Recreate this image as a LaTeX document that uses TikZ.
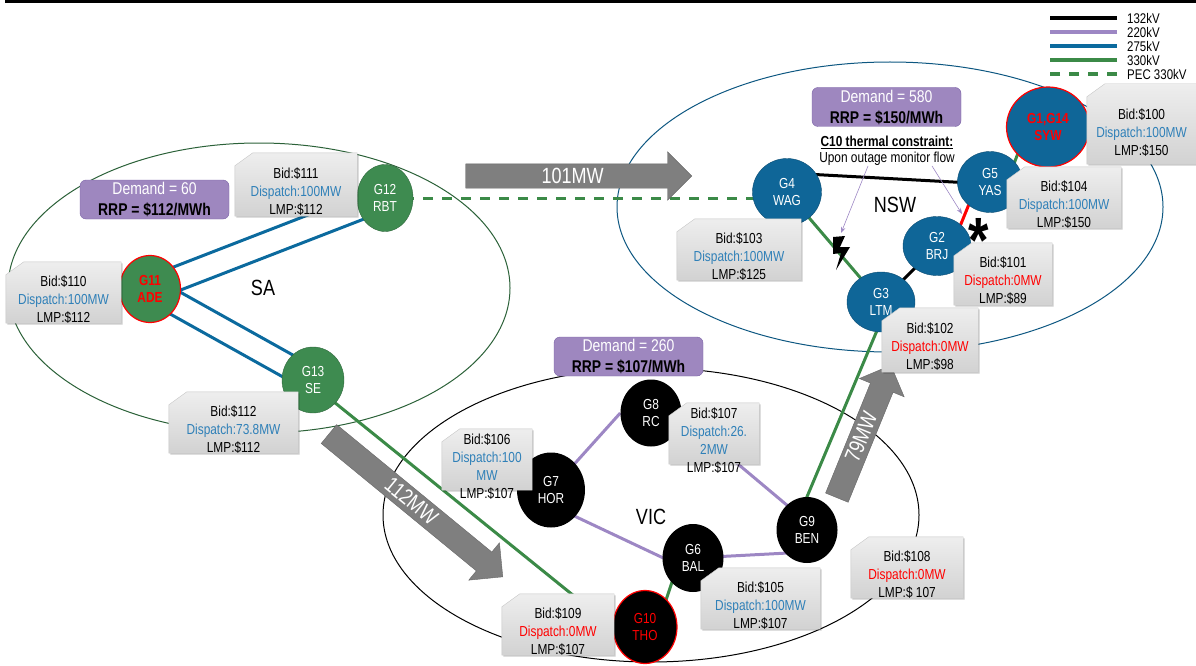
\documentclass[tikz,border=0pt]{standalone}
\usepackage{fontspec}
\setmainfont{Liberation Sans}[FakeStretch=0.82]
\usetikzlibrary{shapes.geometric,shapes.arrows,arrows.meta,backgrounds,shadows}

\definecolor{kvpurple}{HTML}{9D87C4}
\definecolor{kvblue}{HTML}{0B6A9E}
\definecolor{kvgreen}{HTML}{3B8A47}
\definecolor{sagreen}{HTML}{3E8B50}
\definecolor{nswblue}{HTML}{0F6698}
\definecolor{dispblue}{HTML}{2F80B8}
\definecolor{demfill}{HTML}{9E87BF}
\definecolor{demline}{HTML}{7A62A6}
\definecolor{flowgray}{HTML}{7F7F7F}
\definecolor{bidtop}{HTML}{EEEEEE}
\definecolor{bidbot}{HTML}{D2D2D2}
\definecolor{bidline}{HTML}{C6C6C6}

\begin{document}
\begin{tikzpicture}[x=1pt, y=-1pt,
	every node/.style={font=\fontsize{14.5}{18}\selectfont, align=center},
	gen/.style={ellipse, minimum width=62pt, minimum height=66pt, inner sep=0pt, text=white, font=\fontsize{14.5}{17}\selectfont},
	sagen/.style={gen, fill=sagreen, draw=sagreen!75!black},
	nswgen/.style={gen, fill=nswblue, draw=nswblue!75!black},
	vicgen/.style={gen, fill=black},
	rimmed/.style={draw=red, line width=1.2pt, text=red},
	bid/.style={rectangle, inner sep=0pt, minimum height=61pt},
	bidfill/.style={top color=bidtop, bottom color=bidbot, draw=bidline, drop shadow={shadow xshift=1.5pt, shadow yshift=-1.5pt, fill=black, opacity=0.2}},
	bidtext/.style={inner sep=0pt},
	demand/.style={rounded corners=6pt, fill=demfill, draw=demline, minimum width=149pt, minimum height=39pt, inner sep=0pt, font=\fontsize{17}{21}\selectfont},
	flow/.style={single arrow, single arrow head extend=12pt, anchor=tip, fill=flowgray, draw=flowgray!80!black, text=white, minimum width=48pt, inner xsep=4pt, inner ysep=5pt, text height=14pt, text depth=0pt, font=\fontsize{22}{24}\selectfont},
	region/.style={font=\fontsize{22}{24}\selectfont},
	legend/.style={anchor=west, inner sep=0pt, font=\fontsize{14}{16}\selectfont},
	kv132/.style={draw=black, line width=3pt},
	kv220/.style={draw=kvpurple, line width=3pt},
	kv275/.style={draw=kvblue, line width=3pt},
	kv330/.style={draw=kvgreen, line width=3pt},
	pec/.style={draw=kvgreen, line width=3pt, dash pattern=on 10pt off 9pt},
	cutline/.style={draw=red, line width=3pt},
	note/.style={draw=kvpurple, line width=0.6pt, -{Stealth[length=6pt, width=4.5pt]}}
]
	\useasboundingbox (0,0) rectangle (1196,666);
	\draw[line width=2.5pt] (5,1.5) -- (1196,1.5);

	% regions
	\begin{scope}[on background layer]
		\draw[sagreen!70!black, line width=1pt] (259,288) ellipse [x radius=251pt, y radius=145pt];
		\draw[nswblue!85!black, line width=1pt] (890,207) ellipse [x radius=273pt, y radius=145pt];
		\draw[black, line width=1pt] (651,515) ellipse [x radius=268pt, y radius=147pt];
	\end{scope}

	% generators SA
	\node[sagen, rimmed, font=\fontsize{14.5}{17}\selectfont\bfseries, minimum width=61pt, minimum height=67pt] (ade) at (150,289) {G11\\ADE};
	\node[sagen, minimum width=56pt, minimum height=67pt] (rbt) at (385,198) {G12\\RBT};
	\node[sagen] (se) at (313,380) {G13\\SE};

	% generators NSW
	\node[nswgen, minimum width=69pt, minimum height=67pt] (wag) at (787,192) {G4\\WAG};
	\node[nswgen, minimum width=65pt, minimum height=61pt] (yas) at (990,182) {G5\\YAS};
	\node[nswgen, minimum width=68pt, minimum height=59pt] (brj) at (937,246) {G2\\BRJ};
	\node[nswgen, minimum width=68pt, minimum height=60pt] (ltm) at (881,302) {G3\\LTM};
	\node[nswgen, rimmed, font=\fontsize{14.5}{17}\selectfont\bfseries, minimum width=83pt, minimum height=80pt] (syw) at (1048,127) {G1,G14\\SYW};

	% generators VIC
	\node[vicgen, minimum width=61pt, minimum height=67pt] (rc) at (651,413) {G8\\RC};
	\node[vicgen, minimum width=68pt, minimum height=75pt] (hor) at (551,490) {G7\\HOR};
	\node[vicgen, minimum width=61pt, minimum height=68pt] (bal) at (693,558) {G6\\BAL};
	\node[vicgen, minimum width=61pt, minimum height=66pt] (ben) at (807,530) {G9\\BEN};
	\node[vicgen, rimmed, minimum width=64pt, minimum height=73pt] (tho) at (645,627) {G10\\THO};

	% lines
	\begin{scope}[on background layer]
		\draw[kv275] ([shift={(-4.3,-11.2)}]ade.center) -- ([shift={(-4.3,-11.2)}]rbt.center);
		\draw[kv275] ([shift={(4.3,11.2)}]ade.center) -- ([shift={(4.3,11.2)}]rbt.center);
		\draw[kv275] ([shift={(5.8,-10.5)}]ade.center) -- ([shift={(5.8,-10.5)}]se.center);
		\draw[kv275] ([shift={(-5.8,10.5)}]ade.center) -- ([shift={(-5.8,10.5)}]se.center);
		\draw[pec] (rbt.center) -- (rbt.center -| wag.center);
		\draw[kv132] ([yshift=19pt]wag.center) -- ([yshift=-2pt]yas.center);
		\draw[kv330] (wag.center) -- (ltm.center);
		\draw[kv132] (ltm.center) -- (brj.center);
		\draw[cutline] ([xshift=15pt]brj.center) -- ([xshift=-12pt]yas.center);
		\draw[kv330] ([xshift=17pt]yas.center) -- ([xshift=-20pt]syw.center);
		\draw[kv330] ([xshift=-14pt]ben.center) -- ([xshift=8pt]ltm.center);
		\draw[kv330] ([yshift=-5pt]se.center) -- (tho.west);
		\draw[kv330] ([xshift=12pt]tho.center) -- ([xshift=-13pt]bal.center);
		\draw[kv220] (hor.center) -- (rc.west);
		\draw[kv220] ([yshift=-15pt]hor.center) -- ([yshift=-14pt]bal.center);
		\draw[kv220] (bal.center) -- ([yshift=-22pt]ben.center);
		\draw[kv220] ([yshift=22pt]rc.center) -- ([yshift=8pt]ben.center);
	\end{scope}

	% flows
	\node[flow, minimum height=226pt] (saflow) at (692,176) {101MW};
	\node[flow, minimum height=225pt, rotate=-39.4] (vicflow) at (503,577) {112MW};
	\node[flow, minimum height=143pt, rotate=67.8] (nswflow) at (891,365) {79MW};

	% bid boxes
	\node[bid, minimum width=115pt] (adebox) at (63.5,292.5) {};
	\node[bid, minimum width=122pt, minimum height=63pt] (rbtbox) at (296,184.5) {};
	\node[bid, minimum width=129pt] (sebox) at (233.5,422.5) {};
	\node[bid, minimum width=124pt] (wagbox) at (739,249.5) {};
	\node[bid, minimum width=114pt] (yasbox) at (1064,197.5) {};
	\node[bid, minimum width=98pt, minimum height=62pt] (brjbox) at (1003,274) {};
	\node[bid, minimum width=109pt, minimum height=80pt] (sywbox) at (1141.5,124) {};
	\node[bid, minimum width=96pt, minimum height=64pt] (ltmbox) at (930,340) {};
	\node[bid, minimum width=90pt] (horbox) at (487,459.5) {};
	\node[bid, minimum width=90pt] (rcbox) at (714,433.5) {};
	\node[bid, minimum width=119pt] (balbox) at (760.5,598.5) {};
	\node[bid, minimum width=112pt] (benbox) at (907,567.5) {};
	\node[bid, minimum width=112pt] (thobox) at (558,624.5) {};
	\foreach \b in {adebox,rbtbox,sebox,wagbox,yasbox,brjbox,sywbox,ltmbox,horbox,rcbox,balbox,benbox,thobox}
		\shade[bidfill] ([yshift=-13pt]\b.north west) -- ([xshift=18pt]\b.north west) -- (\b.north east) -- (\b.south east) -- (\b.south west) -- cycle;
	\node[bidtext] (adebid) at ([yshift=-7pt]adebox.center) {Bid:\$110\\\textcolor{dispblue}{Dispatch:100MW}\\LMP:\$112};
	\node[bidtext] (rbtbid) at ([yshift=-7pt]rbtbox.center) {Bid:\$111\\\textcolor{dispblue}{Dispatch:100MW}\\LMP:\$112};
	\node[bidtext] (sebid) at ([yshift=-7pt]sebox.center) {Bid:\$112\\\textcolor{dispblue}{Dispatch:73.8MW}\\LMP:\$112};
	\node[bidtext] (wagbid) at ([yshift=-7pt]wagbox.center) {Bid:\$103\\\textcolor{dispblue}{Dispatch:100MW}\\LMP:\$125};
	\node[bidtext] (yasbid) at ([yshift=-7pt]yasbox.center) {Bid:\$104\\\textcolor{dispblue}{Dispatch:100MW}\\LMP:\$150};
	\node[bidtext] (brjbid) at ([yshift=-7pt]brjbox.center) {Bid:\$101\\\textcolor{red}{Dispatch:0MW}\\LMP:\$89};
	\node[bidtext] (sywbid) at ([yshift=-9pt]sywbox.center) {Bid:\$100\\\textcolor{dispblue}{Dispatch:100MW}\\LMP:\$150};
	\node[bidtext] (ltmbid) at ([yshift=-7pt]ltmbox.center) {Bid:\$102\\\textcolor{red}{Dispatch:0MW}\\LMP:\$98};
	\node[bidtext] (horbid) at ([yshift=-7pt]horbox.center) {Bid:\$106\\\textcolor{dispblue}{Dispatch:100}\\\textcolor{dispblue}{MW}\\LMP:\$107};
	\node[bidtext] (rcbid) at ([yshift=-7pt]rcbox.center) {Bid:\$107\\\textcolor{dispblue}{Dispatch:26.}\\\textcolor{dispblue}{2MW}\\LMP:\$107};
	\node[bidtext] (balbid) at ([yshift=-7pt]balbox.center) {Bid:\$105\\\textcolor{dispblue}{Dispatch:100MW}\\LMP:\$107};
	\node[bidtext] (benbid) at ([yshift=-7pt]benbox.center) {Bid:\$108\\\textcolor{red}{Dispatch:0MW}\\LMP:\$ 107};
	\node[bidtext] (thobid) at ([yshift=-7pt]thobox.center) {Bid:\$109\\\textcolor{red}{Dispatch:0MW}\\LMP:\$107};

	% demand
	\node[demand] (sademand) at (154.5,199.5) {\textcolor{white}{Demand = 60}\\\textbf{RRP = \$112/MWh}};
	\node[demand] (nswdemand) at (886.5,107) {\textcolor{white}{Demand = 580}\\\textbf{RRP = \$150/MWh}};
	\node[demand] (vicdemand) at (628.5,356.5) {\textcolor{white}{Demand = 260}\\\textbf{RRP = \$107/MWh}};

	% regions
	\node[region] (sa) at (263,288) {SA};
	\node[region] (nsw) at (895,205) {NSW};
	\node[region] (vic) at (651,517) {VIC};

	% constraint
	\node[inner sep=0pt, font=\fontsize{14.5}{16}\selectfont] (c10) at (887,151) {\underline{\textbf{C10 thermal constraint:}}\\Upon outage monitor flow};
	\fill (833,237) -- (845,236) -- (840,247) -- (850,247) -- (836,270) -- (841,253) -- (833,254) -- cycle;
	\coordinate (bolttip) at (841,233);
	\coordinate (cuttip) at (962,214);
	\draw[note] ([xshift=-19pt]c10.south) -- (bolttip);
	\draw[note] ([xshift=45pt]c10.south) -- (cuttip);
	\node[inner sep=0pt, font=\fontsize{64}{64}\selectfont\bfseries] (star) at (979,240) {*};

	% legend
	\node[legend] (leg132) at (1127,18) {132kV};
	\node[legend] (leg220) at (1127,32) {220kV};
	\node[legend] (leg275) at (1127,46.5) {275kV};
	\node[legend] (leg330) at (1127,60.5) {330kV};
	\node[legend] (legpec) at (1127,74.5) {PEC 330kV};
	\draw[kv132, line width=4pt] ([xshift=-10pt]leg132.west) -- ++(-67,0);
	\draw[kv220, line width=4pt] ([xshift=-10pt]leg220.west) -- ++(-67,0);
	\draw[kv275, line width=4pt] ([xshift=-10pt]leg275.west) -- ++(-67,0);
	\draw[kv330, line width=4pt] ([xshift=-10pt]leg330.west) -- ++(-67,0);
	\draw[pec, line width=4pt] ([xshift=-10pt]legpec.west) -- ++(-67,0);
\end{tikzpicture}
\end{document}
